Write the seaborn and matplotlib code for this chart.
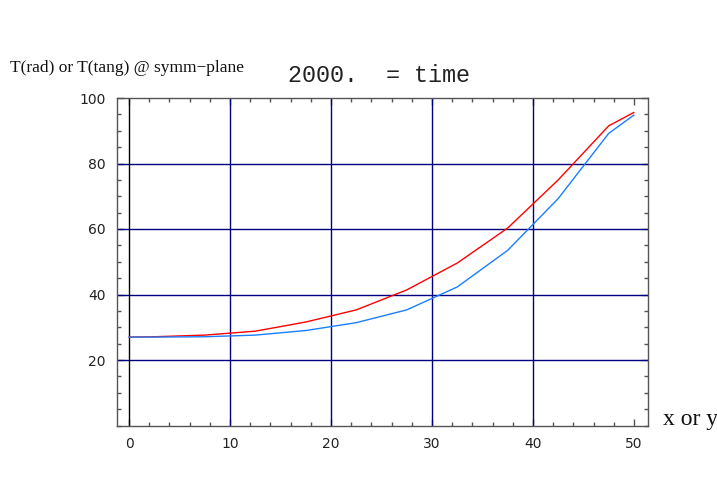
import matplotlib
matplotlib.use("Agg")
import matplotlib.pyplot as plt
from matplotlib.ticker import MultipleLocator, FixedLocator
import seaborn as sns
import pandas as pd

x_vals = [0, 2.5, 7.5, 12.5, 17.5, 22.5, 27.5, 32.5, 37.5, 42.5, 47.5, 50]
t_rad = [27.0, 27.1, 27.6, 28.8, 31.6, 35.3, 41.4, 49.6, 60.3, 75.0, 91.5, 95.6]
t_tang = [27.0, 27.0, 27.1, 27.6, 29.0, 31.4, 35.3, 42.3, 53.5, 69.3, 89.2, 94.8]
x_ticks = [0, 10, 20, 30, 40, 50]
y_ticks = [20, 40, 60, 80, 100]

df = pd.DataFrame({
    "x": x_vals * 2,
    "T": t_rad + t_tang,
    "series": ["rad"] * len(x_vals) + ["tang"] * len(x_vals),
})

sns.set_theme(style="white")
plt.rcParams['font.family'] = ['DejaVu Sans']

fig = plt.figure(figsize=(7.17, 5.04), dpi=100)
ax = fig.add_axes([117/717, 1 - 425.5/504, (648 - 117)/717, (425.5 - 98)/504])

for v in [10, 20, 30, 40]:
    ax.axvline(v, color="#000080", lw=1.0, zorder=1)
for v in [20, 40, 60, 80]:
    ax.axhline(v, color="#000080", lw=1.0, zorder=1)
ax.axvline(0, color="black", lw=1.0, zorder=1)

sns.lineplot(data=df, x="x", y="T", hue="series",
             palette={"rad": "#ff0000", "tang": "#1a7fff"},
             lw=1.0, legend=False, ax=ax, zorder=3)

ax.set_xlim(-1.19, 51.39)
ax.set_ylim(0, 100)
ax.xaxis.set_major_locator(FixedLocator(x_ticks))
ax.yaxis.set_major_locator(FixedLocator(y_ticks))
ax.xaxis.set_minor_locator(MultipleLocator(2))
ax.yaxis.set_minor_locator(MultipleLocator(5))
ax.tick_params(which="both", direction="in", top=True, right=True,
               bottom=True, left=True, color="#555555", labelsize=10,
               labelcolor="#222222")
ax.tick_params(which="major", length=5, width=1)
ax.tick_params(which="minor", length=3, width=1)
ax.tick_params(axis="x", pad=8)
ax.tick_params(axis="y", pad=8)
ax.set_xlabel("")
ax.set_ylabel("")
for s in ax.spines.values():
    s.set_color("#555555")
    s.set_linewidth(1.0)
    s.set_visible(True)

fig.text(10/717, 1 - 68/504, "T(rad) or T(tang) @ symm\u2212plane",
         family="Liberation Serif", fontsize=12.5, ha="left", va="center",
         color="#111111")
fig.text(288/717, 1 - 75/504, "2000.  = time",
         family="Liberation Mono", fontsize=16.8, ha="left", va="center",
         color="#222222")
fig.text(663/717, 1 - 419/504, "x or y",
         family="Liberation Serif", fontsize=17, ha="left", va="center",
         color="#111111")

fig.savefig("out.png", dpi=100, facecolor="white")
